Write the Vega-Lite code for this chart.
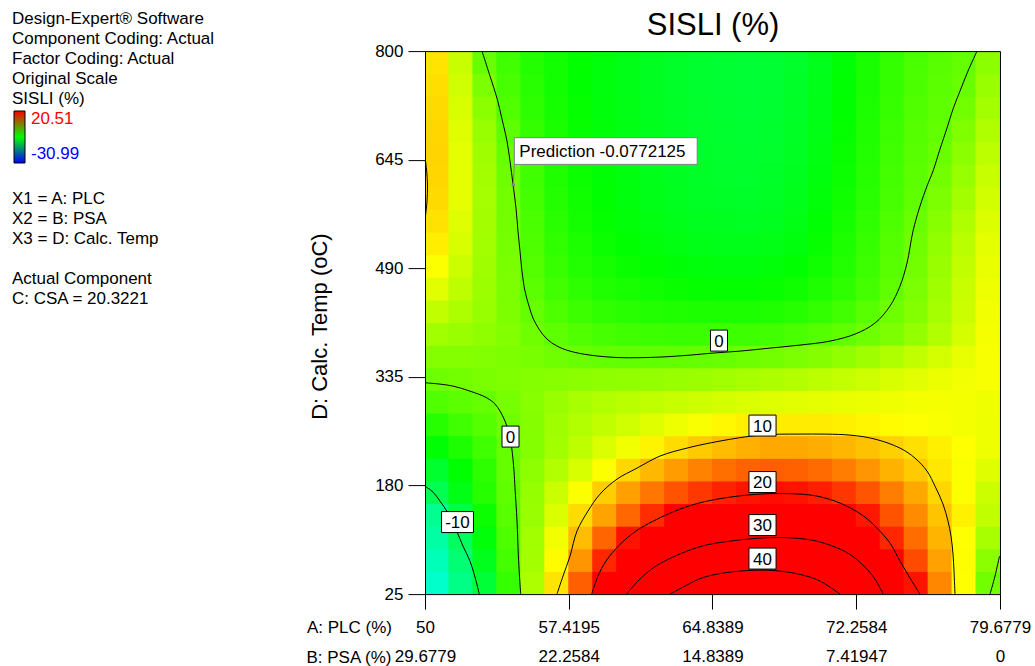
{
  "$schema": "https://vega.github.io/schema/vega-lite/v6.json",
  "background": "white",
  "padding": {"left": 12, "top": 9.1, "right": 0, "bottom": 0},
  "bounds": "flush",
  "spacing": 183,
  "config": {
    "view": {"stroke": null},
    "font": "Liberation Sans",
    "axis": {
      "labelFont": "Liberation Sans", "labelFontSize": 17, "labelColor": "#000000",
      "titleFont": "Liberation Sans", "titleFontSize": 17, "titleFontWeight": "normal", "titleColor": "#000000",
      "domainColor": "#000000", "tickColor": "#000000", "grid": false,
      "labelFlush": false, "labelOverlap": false, "labelBound": false
    },
    "legend": {"labelFont": "Liberation Sans"}
  },
  "datasets": {
    "info": [
      {"ln": 0, "t": "Design-Expert® Software"},
      {"ln": 1, "t": "Component Coding: Actual"},
      {"ln": 2, "t": "Factor Coding: Actual"},
      {"ln": 3, "t": "Original Scale"},
      {"ln": 4, "t": "SISLI (%)"},
      {"ln": 9, "t": "X1 = A: PLC"},
      {"ln": 10, "t": "X2 = B: PSA"},
      {"ln": 11, "t": "X3 = D: Calc. Temp"},
      {"ln": 13, "t": "Actual Component"},
      {"ln": 14, "t": "C: CSA = 20.3221"}
    ],
    "labels": [
      {"t": "0", "a": 54.413, "d": 249.8},
      {"t": "-10", "a": 51.677, "d": 127.8},
      {"t": "0", "a": 65.174, "d": 386.8},
      {"t": "10", "a": 67.42, "d": 265.5},
      {"t": "20", "a": 67.42, "d": 184.9},
      {"t": "30", "a": 67.42, "d": 123.5},
      {"t": "40", "a": 67.42, "d": 75.7}
    ],
    "pred": [
      {"a": 54.557, "d": 608.8, "a2": 54.609, "d2": 638.3, "t": "Prediction -0.0772125"}
    ],
    "contours": [
      {"k":"c1","o":0,"a":52.942,"d":800},{"k":"c1","o":1,"a":53.355,"d":764.3},{"k":"c1","o":2,"a":53.716,"d":732.9},{"k":"c1","o":3,"a":53.974,"d":703},{"k":"c1","o":4,"a":54.232,"d":671.6},{"k":"c1","o":5,"a":54.387,"d":643},{"k":"c1","o":6,"a":54.542,"d":610.2},{"k":"c1","o":7,"a":54.697,"d":575.9},{"k":"c1","o":8,"a":54.8,"d":543.1},{"k":"c1","o":9,"a":54.903,"d":514.6},{"k":"c1","o":10,"a":55.006,"d":486},{"k":"c1","o":11,"a":55.161,"d":457.5},{"k":"c1","o":12,"a":55.368,"d":436.1},{"k":"c1","o":13,"a":55.574,"d":418.9},{"k":"c1","o":14,"a":55.884,"d":403.2},{"k":"c1","o":15,"a":56.297,"d":388.9},{"k":"c1","o":16,"a":56.813,"d":379},{"k":"c1","o":17,"a":57.484,"d":371.8},{"k":"c1","o":18,"a":58.516,"d":366.1},{"k":"c1","o":19,"a":60.065,"d":362.5},{"k":"c1","o":20,"a":62.129,"d":363.3},{"k":"c1","o":21,"a":63.678,"d":366.1},{"k":"c1","o":22,"a":64.865,"d":369},{"k":"c1","o":23,"a":66.258,"d":371.8},{"k":"c1","o":24,"a":67.807,"d":376.1},{"k":"c1","o":25,"a":69.355,"d":380.4},{"k":"c1","o":26,"a":70.904,"d":386.1},{"k":"c1","o":27,"a":72.194,"d":396.1},{"k":"c1","o":28,"a":73.226,"d":411.8},{"k":"c1","o":29,"a":74,"d":436.1},{"k":"c1","o":30,"a":74.517,"d":464.6},{"k":"c1","o":31,"a":74.878,"d":497.4},{"k":"c1","o":32,"a":75.188,"d":543.1},{"k":"c1","o":33,"a":75.549,"d":578.8},{"k":"c1","o":34,"a":75.91,"d":607.3},{"k":"c1","o":35,"a":76.22,"d":628.7},{"k":"c1","o":36,"a":76.581,"d":660.1},{"k":"c1","o":37,"a":76.942,"d":690.1},{"k":"c1","o":38,"a":77.252,"d":717.2},{"k":"c1","o":39,"a":77.613,"d":742.9},{"k":"c1","o":40,"a":78.026,"d":771.5},{"k":"c1","o":41,"a":78.491,"d":800},
      {"k":"c2","o":0,"a":50,"d":326.6},{"k":"c2","o":1,"a":50.774,"d":324.7},{"k":"c2","o":2,"a":51.445,"d":321.9},{"k":"c2","o":3,"a":52.323,"d":314.7},{"k":"c2","o":4,"a":53.185,"d":305.2},{"k":"c2","o":5,"a":53.613,"d":296.2},{"k":"c2","o":6,"a":53.871,"d":286.2},{"k":"c2","o":7,"a":54.129,"d":271.9},{"k":"c2","o":8,"a":54.336,"d":254.8},{"k":"c2","o":9,"a":54.475,"d":233.8},{"k":"c2","o":10,"a":54.594,"d":200.6},{"k":"c2","o":11,"a":54.645,"d":176.7},{"k":"c2","o":12,"a":54.749,"d":129.2},{"k":"c2","o":13,"a":54.816,"d":81.7},{"k":"c2","o":14,"a":54.877,"d":50.7},{"k":"c2","o":15,"a":54.939,"d":25},
      {"k":"c3","o":0,"a":50,"d":179.1},{"k":"c3","o":1,"a":50.413,"d":170.6},{"k":"c3","o":2,"a":50.774,"d":157.7},{"k":"c3","o":3,"a":51.187,"d":140.6},{"k":"c3","o":4,"a":51.636,"d":114.9},{"k":"c3","o":5,"a":51.961,"d":93.5},{"k":"c3","o":6,"a":52.323,"d":72.1},{"k":"c3","o":7,"a":52.581,"d":49.3},{"k":"c3","o":8,"a":52.803,"d":25},
      {"k":"c4","o":0,"a":56.813,"d":25},{"k":"c4","o":1,"a":57.123,"d":50.7},{"k":"c4","o":2,"a":57.484,"d":79.2},{"k":"c4","o":3,"a":57.845,"d":114.9},{"k":"c4","o":4,"a":58.413,"d":143.5},{"k":"c4","o":5,"a":59.032,"d":167.7},{"k":"c4","o":6,"a":59.91,"d":189.1},{"k":"c4","o":7,"a":60.942,"d":204.8},{"k":"c4","o":8,"a":62.129,"d":222},{"k":"c4","o":9,"a":63.523,"d":233.4},{"k":"c4","o":10,"a":65.226,"d":243.4},{"k":"c4","o":11,"a":67.291,"d":251.9},{"k":"c4","o":12,"a":69.355,"d":253.4},{"k":"c4","o":13,"a":71.936,"d":251.9},{"k":"c4","o":14,"a":73.226,"d":246.2},{"k":"c4","o":15,"a":74.517,"d":233.4},{"k":"c4","o":16,"a":75.291,"d":219.1},{"k":"c4","o":17,"a":75.91,"d":200.6},{"k":"c4","o":18,"a":76.323,"d":179.1},{"k":"c4","o":19,"a":76.736,"d":153.5},{"k":"c4","o":20,"a":76.994,"d":129.2},{"k":"c4","o":21,"a":77.149,"d":107.8},{"k":"c4","o":22,"a":77.252,"d":82.1},{"k":"c4","o":23,"a":77.304,"d":57.8},{"k":"c4","o":24,"a":77.355,"d":25},
      {"k":"c5","o":0,"a":58.604,"d":25},{"k":"c5","o":1,"a":58.929,"d":50.7},{"k":"c5","o":2,"a":59.342,"d":72.1},{"k":"c5","o":3,"a":60.065,"d":95.9},{"k":"c5","o":4,"a":60.89,"d":114.9},{"k":"c5","o":5,"a":61.783,"d":129.2},{"k":"c5","o":6,"a":63.161,"d":146.3},{"k":"c5","o":7,"a":64.194,"d":155.3},{"k":"c5","o":8,"a":65.742,"d":163.4},{"k":"c5","o":9,"a":67.636,"d":168.2},{"k":"c5","o":10,"a":69.355,"d":167.7},{"k":"c5","o":11,"a":70.217,"d":164.9},{"k":"c5","o":12,"a":71.162,"d":157.7},{"k":"c5","o":13,"a":71.936,"d":148.2},{"k":"c5","o":14,"a":72.71,"d":134.9},{"k":"c5","o":15,"a":73.314,"d":119.6},{"k":"c5","o":16,"a":74,"d":97.8},{"k":"c5","o":17,"a":74.517,"d":72.1},{"k":"c5","o":18,"a":75.033,"d":47.8},{"k":"c5","o":19,"a":75.549,"d":25},
      {"k":"c6","o":0,"a":60.411,"d":25},{"k":"c6","o":1,"a":60.994,"d":43.6},{"k":"c6","o":2,"a":61.783,"d":62.5},{"k":"c6","o":3,"a":62.903,"d":79.2},{"k":"c6","o":4,"a":64.297,"d":93.5},{"k":"c6","o":5,"a":65.742,"d":100.6},{"k":"c6","o":6,"a":67.636,"d":105.4},{"k":"c6","o":7,"a":69.097,"d":104.9},{"k":"c6","o":8,"a":70.217,"d":100.6},{"k":"c6","o":9,"a":71.162,"d":92.1},{"k":"c6","o":10,"a":71.936,"d":81.7},{"k":"c6","o":11,"a":72.71,"d":63.5},{"k":"c6","o":12,"a":73.226,"d":46.4},{"k":"c6","o":13,"a":73.654,"d":25},
      {"k":"c7","o":0,"a":62.645,"d":25},{"k":"c7","o":1,"a":63.419,"d":36.4},{"k":"c7","o":2,"a":64.194,"d":47.1},{"k":"c7","o":3,"a":65.226,"d":54.3},{"k":"c7","o":4,"a":66.774,"d":58.8},{"k":"c7","o":5,"a":68.065,"d":58.5},{"k":"c7","o":6,"a":69.355,"d":53.1},{"k":"c7","o":7,"a":70.387,"d":43.6},{"k":"c7","o":8,"a":71.42,"d":25},
      {"k":"c8","o":0,"a":79.162,"d":25},{"k":"c8","o":1,"a":79.42,"d":50.7},{"k":"c8","o":2,"a":79.652,"d":79.2},
      {"k":"c9","o":0,"a":50,"d":648.7},{"k":"c9","o":1,"a":50.077,"d":631.6},{"k":"c9","o":2,"a":50.129,"d":607.3},{"k":"c9","o":3,"a":50.103,"d":585.9},{"k":"c9","o":4,"a":50.026,"d":564.5}
    ],
    "grid": [
      {"a":50.618,"d":41.1,"v":-15.5},{"a":51.855,"d":41.1,"v":-12},{"a":53.092,"d":41.1,"v":-8},{"a":54.328,"d":41.1,"v":-2.5},{"a":55.565,"d":41.1,"v":3.5},{"a":56.801,"d":41.1,"v":9},{"a":58.038,"d":41.1,"v":15.7},{"a":59.275,"d":41.1,"v":22.5},{"a":60.511,"d":41.1,"v":29},{"a":61.748,"d":41.1,"v":34.6},{"a":62.984,"d":41.1,"v":40},{"a":64.221,"d":41.1,"v":43},{"a":65.457,"d":41.1,"v":45.5},{"a":66.694,"d":41.1,"v":47},{"a":67.931,"d":41.1,"v":47},{"a":69.167,"d":41.1,"v":45.5},{"a":70.404,"d":41.1,"v":42.5},{"a":71.64,"d":41.1,"v":37.3},{"a":72.877,"d":41.1,"v":32},{"a":74.113,"d":41.1,"v":26},{"a":75.35,"d":41.1,"v":19.6},{"a":76.587,"d":41.1,"v":13.7},{"a":77.823,"d":41.1,"v":7.6},{"a":79.06,"d":41.1,"v":0.5},
      {"a":50.618,"d":73.4,"v":-14.5},{"a":51.855,"d":73.4,"v":-11},{"a":53.092,"d":73.4,"v":-6.7},{"a":54.328,"d":73.4,"v":-1.8},{"a":55.565,"d":73.4,"v":3},{"a":56.801,"d":73.4,"v":7.8},{"a":58.038,"d":73.4,"v":13},{"a":59.275,"d":73.4,"v":18.6},{"a":60.511,"d":73.4,"v":23},{"a":61.748,"d":73.4,"v":27},{"a":62.984,"d":73.4,"v":30.8},{"a":64.221,"d":73.4,"v":34},{"a":65.457,"d":73.4,"v":36.5},{"a":66.694,"d":73.4,"v":38},{"a":67.931,"d":73.4,"v":38.5},{"a":69.167,"d":73.4,"v":37.5},{"a":70.404,"d":73.4,"v":35},{"a":71.64,"d":73.4,"v":31.8},{"a":72.877,"d":73.4,"v":27},{"a":74.113,"d":73.4,"v":21.4},{"a":75.35,"d":73.4,"v":16.7},{"a":76.587,"d":73.4,"v":12.4},{"a":77.823,"d":73.4,"v":7.7},{"a":79.06,"d":73.4,"v":1.8},
      {"a":50.618,"d":105.7,"v":-13.5},{"a":51.855,"d":105.7,"v":-10},{"a":53.092,"d":105.7,"v":-5.7},{"a":54.328,"d":105.7,"v":-1.3},{"a":55.565,"d":105.7,"v":2.9},{"a":56.801,"d":105.7,"v":7},{"a":58.038,"d":105.7,"v":11},{"a":59.275,"d":105.7,"v":15.4},{"a":60.511,"d":105.7,"v":19.6},{"a":61.748,"d":105.7,"v":22.5},{"a":62.984,"d":105.7,"v":25},{"a":64.221,"d":105.7,"v":27},{"a":65.457,"d":105.7,"v":28.5},{"a":66.694,"d":105.7,"v":29.3},{"a":67.931,"d":105.7,"v":29.5},{"a":69.167,"d":105.7,"v":28.8},{"a":70.404,"d":105.7,"v":27},{"a":71.64,"d":105.7,"v":24.5},{"a":72.877,"d":105.7,"v":21.6},{"a":74.113,"d":105.7,"v":18.6},{"a":75.35,"d":105.7,"v":15},{"a":76.587,"d":105.7,"v":11.4},{"a":77.823,"d":105.7,"v":7.6},{"a":79.06,"d":105.7,"v":3.2},
      {"a":50.618,"d":138,"v":-12.5},{"a":51.855,"d":138,"v":-8.5},{"a":53.092,"d":138,"v":-4.7},{"a":54.328,"d":138,"v":-0.8},{"a":55.565,"d":138,"v":2.5},{"a":56.801,"d":138,"v":5.7},{"a":58.038,"d":138,"v":9.4},{"a":59.275,"d":138,"v":12.3},{"a":60.511,"d":138,"v":15.3},{"a":61.748,"d":138,"v":18.3},{"a":62.984,"d":138,"v":20.8},{"a":64.221,"d":138,"v":22.5},{"a":65.457,"d":138,"v":23.8},{"a":66.694,"d":138,"v":24.5},{"a":67.931,"d":138,"v":24.7},{"a":69.167,"d":138,"v":24.4},{"a":70.404,"d":138,"v":23.4},{"a":71.64,"d":138,"v":21.7},{"a":72.877,"d":138,"v":19.3},{"a":74.113,"d":138,"v":16.3},{"a":75.35,"d":138,"v":13.5},{"a":76.587,"d":138,"v":10.6},{"a":77.823,"d":138,"v":8.3},{"a":79.06,"d":138,"v":4.5},
      {"a":50.618,"d":170.3,"v":-9.3},{"a":51.855,"d":170.3,"v":-6.3},{"a":53.092,"d":170.3,"v":-3.3},{"a":54.328,"d":170.3,"v":-0.4},{"a":55.565,"d":170.3,"v":2.3},{"a":56.801,"d":170.3,"v":4.9},{"a":58.038,"d":170.3,"v":7.5},{"a":59.275,"d":170.3,"v":10.1},{"a":60.511,"d":170.3,"v":12.5},{"a":61.748,"d":170.3,"v":14.5},{"a":62.984,"d":170.3,"v":16.3},{"a":64.221,"d":170.3,"v":17.7},{"a":65.457,"d":170.3,"v":18.8},{"a":66.694,"d":170.3,"v":19.5},{"a":67.931,"d":170.3,"v":19.8},{"a":69.167,"d":170.3,"v":19.6},{"a":70.404,"d":170.3,"v":19},{"a":71.64,"d":170.3,"v":17.8},{"a":72.877,"d":170.3,"v":16.2},{"a":74.113,"d":170.3,"v":14.2},{"a":75.35,"d":170.3,"v":12},{"a":76.587,"d":170.3,"v":9.7},{"a":77.823,"d":170.3,"v":7.5},{"a":79.06,"d":170.3,"v":5},
      {"a":50.618,"d":202.6,"v":-7.6},{"a":51.855,"d":202.6,"v":-5.3},{"a":53.092,"d":202.6,"v":-2.9},{"a":54.328,"d":202.6,"v":-0.2},{"a":55.565,"d":202.6,"v":1.9},{"a":56.801,"d":202.6,"v":3.7},{"a":58.038,"d":202.6,"v":5.6},{"a":59.275,"d":202.6,"v":7.5},{"a":60.511,"d":202.6,"v":9.6},{"a":61.748,"d":202.6,"v":11.2},{"a":62.984,"d":202.6,"v":12.6},{"a":64.221,"d":202.6,"v":13.9},{"a":65.457,"d":202.6,"v":14.9},{"a":66.694,"d":202.6,"v":15.5},{"a":67.931,"d":202.6,"v":15.7},{"a":69.167,"d":202.6,"v":15.6},{"a":70.404,"d":202.6,"v":15.1},{"a":71.64,"d":202.6,"v":14.2},{"a":72.877,"d":202.6,"v":13},{"a":74.113,"d":202.6,"v":11.5},{"a":75.35,"d":202.6,"v":10.3},{"a":76.587,"d":202.6,"v":8.8},{"a":77.823,"d":202.6,"v":7.5},{"a":79.06,"d":202.6,"v":6},
      {"a":50.618,"d":234.9,"v":-5.5},{"a":51.855,"d":234.9,"v":-3.8},{"a":53.092,"d":234.9,"v":-2},{"a":54.328,"d":234.9,"v":-0.2},{"a":55.565,"d":234.9,"v":1.4},{"a":56.801,"d":234.9,"v":2.9},{"a":58.038,"d":234.9,"v":4.3},{"a":59.275,"d":234.9,"v":5.7},{"a":60.511,"d":234.9,"v":7},{"a":61.748,"d":234.9,"v":8.2},{"a":62.984,"d":234.9,"v":9.4},{"a":64.221,"d":234.9,"v":10.3},{"a":65.457,"d":234.9,"v":11},{"a":66.694,"d":234.9,"v":11.6},{"a":67.931,"d":234.9,"v":12},{"a":69.167,"d":234.9,"v":12},{"a":70.404,"d":234.9,"v":11.8},{"a":71.64,"d":234.9,"v":11.3},{"a":72.877,"d":234.9,"v":10.7},{"a":74.113,"d":234.9,"v":10},{"a":75.35,"d":234.9,"v":9.2},{"a":76.587,"d":234.9,"v":8.4},{"a":77.823,"d":234.9,"v":7.6},{"a":79.06,"d":234.9,"v":6.8},
      {"a":50.618,"d":267.2,"v":-3.3},{"a":51.855,"d":267.2,"v":-2},{"a":53.092,"d":267.2,"v":-0.9},{"a":54.328,"d":267.2,"v":0.3},{"a":55.565,"d":267.2,"v":1.5},{"a":56.801,"d":267.2,"v":2.8},{"a":58.038,"d":267.2,"v":3.7},{"a":59.275,"d":267.2,"v":4.5},{"a":60.511,"d":267.2,"v":5.2},{"a":61.748,"d":267.2,"v":6},{"a":62.984,"d":267.2,"v":6.8},{"a":64.221,"d":267.2,"v":7.4},{"a":65.457,"d":267.2,"v":8},{"a":66.694,"d":267.2,"v":8.4},{"a":67.931,"d":267.2,"v":8.6},{"a":69.167,"d":267.2,"v":8.6},{"a":70.404,"d":267.2,"v":8.6},{"a":71.64,"d":267.2,"v":8.4},{"a":72.877,"d":267.2,"v":8.1},{"a":74.113,"d":267.2,"v":7.8},{"a":75.35,"d":267.2,"v":7.6},{"a":76.587,"d":267.2,"v":7.4},{"a":77.823,"d":267.2,"v":7.1},{"a":79.06,"d":267.2,"v":6.8},
      {"a":50.618,"d":299.5,"v":-1.2},{"a":51.855,"d":299.5,"v":-0.6},{"a":53.092,"d":299.5,"v":-0.1},{"a":54.328,"d":299.5,"v":0.7},{"a":55.565,"d":299.5,"v":1.6},{"a":56.801,"d":299.5,"v":2.5},{"a":58.038,"d":299.5,"v":3.2},{"a":59.275,"d":299.5,"v":3.7},{"a":60.511,"d":299.5,"v":4.1},{"a":61.748,"d":299.5,"v":4.4},{"a":62.984,"d":299.5,"v":4.8},{"a":64.221,"d":299.5,"v":5.1},{"a":65.457,"d":299.5,"v":5.4},{"a":66.694,"d":299.5,"v":5.7},{"a":67.931,"d":299.5,"v":5.9},{"a":69.167,"d":299.5,"v":6.1},{"a":70.404,"d":299.5,"v":6.3},{"a":71.64,"d":299.5,"v":6.5},{"a":72.877,"d":299.5,"v":6.7},{"a":74.113,"d":299.5,"v":6.9},{"a":75.35,"d":299.5,"v":7.1},{"a":76.587,"d":299.5,"v":7.2},{"a":77.823,"d":299.5,"v":7.1},{"a":79.06,"d":299.5,"v":6.9},
      {"a":50.618,"d":331.8,"v":0.3},{"a":51.855,"d":331.8,"v":0.6},{"a":53.092,"d":331.8,"v":0.9},{"a":54.328,"d":331.8,"v":1.2},{"a":55.565,"d":331.8,"v":1.4},{"a":56.801,"d":331.8,"v":1.6},{"a":58.038,"d":331.8,"v":1.8},{"a":59.275,"d":331.8,"v":2},{"a":60.511,"d":331.8,"v":2.1},{"a":61.748,"d":331.8,"v":2.2},{"a":62.984,"d":331.8,"v":2.4},{"a":64.221,"d":331.8,"v":2.6},{"a":65.457,"d":331.8,"v":2.9},{"a":66.694,"d":331.8,"v":3.2},{"a":67.931,"d":331.8,"v":3.5},{"a":69.167,"d":331.8,"v":3.8},{"a":70.404,"d":331.8,"v":4.2},{"a":71.64,"d":331.8,"v":4.6},{"a":72.877,"d":331.8,"v":5.1},{"a":74.113,"d":331.8,"v":5.6},{"a":75.35,"d":331.8,"v":6.1},{"a":76.587,"d":331.8,"v":6.6},{"a":77.823,"d":331.8,"v":7},{"a":79.06,"d":331.8,"v":7.3},
      {"a":50.618,"d":364.1,"v":1.4},{"a":51.855,"d":364.1,"v":1.4},{"a":53.092,"d":364.1,"v":1.3},{"a":54.328,"d":364.1,"v":1.1},{"a":55.565,"d":364.1,"v":0.8},{"a":56.801,"d":364.1,"v":0.4},{"a":58.038,"d":364.1,"v":0.1},{"a":59.275,"d":364.1,"v":-0.2},{"a":60.511,"d":364.1,"v":-0.3},{"a":61.748,"d":364.1,"v":-0.3},{"a":62.984,"d":364.1,"v":-0.25},{"a":64.221,"d":364.1,"v":-0.15},{"a":65.457,"d":364.1,"v":0},{"a":66.694,"d":364.1,"v":0.3},{"a":67.931,"d":364.1,"v":0.6},{"a":69.167,"d":364.1,"v":1},{"a":70.404,"d":364.1,"v":1.5},{"a":71.64,"d":364.1,"v":2.1},{"a":72.877,"d":364.1,"v":2.8},{"a":74.113,"d":364.1,"v":3.6},{"a":75.35,"d":364.1,"v":4.5},{"a":76.587,"d":364.1,"v":5.4},{"a":77.823,"d":364.1,"v":6.4},{"a":79.06,"d":364.1,"v":7.3},
      {"a":50.618,"d":396.4,"v":2.9},{"a":51.855,"d":396.4,"v":2.5},{"a":53.092,"d":396.4,"v":2},{"a":54.328,"d":396.4,"v":1.3},{"a":55.565,"d":396.4,"v":0.4},{"a":56.801,"d":396.4,"v":-0.5},{"a":58.038,"d":396.4,"v":-1.2},{"a":59.275,"d":396.4,"v":-1.7},{"a":60.511,"d":396.4,"v":-2},{"a":61.748,"d":396.4,"v":-2.2},{"a":62.984,"d":396.4,"v":-2.3},{"a":64.221,"d":396.4,"v":-2.3},{"a":65.457,"d":396.4,"v":-2.2},{"a":66.694,"d":396.4,"v":-2.1},{"a":67.931,"d":396.4,"v":-1.9},{"a":69.167,"d":396.4,"v":-1.5},{"a":70.404,"d":396.4,"v":-1},{"a":71.64,"d":396.4,"v":-0.4},{"a":72.877,"d":396.4,"v":0.3},{"a":74.113,"d":396.4,"v":1},{"a":75.35,"d":396.4,"v":2.2},{"a":76.587,"d":396.4,"v":3.7},{"a":77.823,"d":396.4,"v":5.4},{"a":79.06,"d":396.4,"v":7.2},
      {"a":50.618,"d":428.6,"v":4.5},{"a":51.855,"d":428.6,"v":3.5},{"a":53.092,"d":428.6,"v":2.4},{"a":54.328,"d":428.6,"v":1.1},{"a":55.565,"d":428.6,"v":-0.1},{"a":56.801,"d":428.6,"v":-1.3},{"a":58.038,"d":428.6,"v":-2.2},{"a":59.275,"d":428.6,"v":-2.8},{"a":60.511,"d":428.6,"v":-3.2},{"a":61.748,"d":428.6,"v":-3.5},{"a":62.984,"d":428.6,"v":-3.7},{"a":64.221,"d":428.6,"v":-3.9},{"a":65.457,"d":428.6,"v":-3.9},{"a":66.694,"d":428.6,"v":-3.9},{"a":67.931,"d":428.6,"v":-3.7},{"a":69.167,"d":428.6,"v":-3.3},{"a":70.404,"d":428.6,"v":-2.7},{"a":71.64,"d":428.6,"v":-1.9},{"a":72.877,"d":428.6,"v":-0.8},{"a":74.113,"d":428.6,"v":0.3},{"a":75.35,"d":428.6,"v":1.4},{"a":76.587,"d":428.6,"v":3.1},{"a":77.823,"d":428.6,"v":5},{"a":79.06,"d":428.6,"v":7},
      {"a":50.618,"d":460.9,"v":6.1},{"a":51.855,"d":460.9,"v":4.3},{"a":53.092,"d":460.9,"v":2.6},{"a":54.328,"d":460.9,"v":1},{"a":55.565,"d":460.9,"v":-0.6},{"a":56.801,"d":460.9,"v":-1.9},{"a":58.038,"d":460.9,"v":-2.9},{"a":59.275,"d":460.9,"v":-3.6},{"a":60.511,"d":460.9,"v":-4.1},{"a":61.748,"d":460.9,"v":-4.5},{"a":62.984,"d":460.9,"v":-4.8},{"a":64.221,"d":460.9,"v":-5},{"a":65.457,"d":460.9,"v":-5.1},{"a":66.694,"d":460.9,"v":-5.1},{"a":67.931,"d":460.9,"v":-4.9},{"a":69.167,"d":460.9,"v":-4.5},{"a":70.404,"d":460.9,"v":-3.8},{"a":71.64,"d":460.9,"v":-2.9},{"a":72.877,"d":460.9,"v":-1.8},{"a":74.113,"d":460.9,"v":-0.4},{"a":75.35,"d":460.9,"v":1},{"a":76.587,"d":460.9,"v":2.8},{"a":77.823,"d":460.9,"v":4.8},{"a":79.06,"d":460.9,"v":6.8},
      {"a":50.618,"d":493.2,"v":7.5},{"a":51.855,"d":493.2,"v":5},{"a":53.092,"d":493.2,"v":2.8},{"a":54.328,"d":493.2,"v":0.9},{"a":55.565,"d":493.2,"v":-1},{"a":56.801,"d":493.2,"v":-2.4},{"a":58.038,"d":493.2,"v":-3.5},{"a":59.275,"d":493.2,"v":-4.2},{"a":60.511,"d":493.2,"v":-4.8},{"a":61.748,"d":493.2,"v":-5.2},{"a":62.984,"d":493.2,"v":-5.6},{"a":64.221,"d":493.2,"v":-5.8},{"a":65.457,"d":493.2,"v":-5.9},{"a":66.694,"d":493.2,"v":-5.9},{"a":67.931,"d":493.2,"v":-5.7},{"a":69.167,"d":493.2,"v":-5.3},{"a":70.404,"d":493.2,"v":-4.5},{"a":71.64,"d":493.2,"v":-3.5},{"a":72.877,"d":493.2,"v":-2.2},{"a":74.113,"d":493.2,"v":-0.8},{"a":75.35,"d":493.2,"v":0.6},{"a":76.587,"d":493.2,"v":2.5},{"a":77.823,"d":493.2,"v":4.5},{"a":79.06,"d":493.2,"v":6.5},
      {"a":50.618,"d":525.5,"v":8.5},{"a":51.855,"d":525.5,"v":5.6},{"a":53.092,"d":525.5,"v":2.9},{"a":54.328,"d":525.5,"v":0.7},{"a":55.565,"d":525.5,"v":-1.3},{"a":56.801,"d":525.5,"v":-2.8},{"a":58.038,"d":525.5,"v":-3.9},{"a":59.275,"d":525.5,"v":-4.7},{"a":60.511,"d":525.5,"v":-5.3},{"a":61.748,"d":525.5,"v":-5.7},{"a":62.984,"d":525.5,"v":-6.1},{"a":64.221,"d":525.5,"v":-6.4},{"a":65.457,"d":525.5,"v":-6.5},{"a":66.694,"d":525.5,"v":-6.5},{"a":67.931,"d":525.5,"v":-6.3},{"a":69.167,"d":525.5,"v":-5.9},{"a":70.404,"d":525.5,"v":-5},{"a":71.64,"d":525.5,"v":-3.9},{"a":72.877,"d":525.5,"v":-2.5},{"a":74.113,"d":525.5,"v":-1},{"a":75.35,"d":525.5,"v":0.4},{"a":76.587,"d":525.5,"v":2.1},{"a":77.823,"d":525.5,"v":4.1},{"a":79.06,"d":525.5,"v":6.2},
      {"a":50.618,"d":557.8,"v":9.1},{"a":51.855,"d":557.8,"v":6},{"a":53.092,"d":557.8,"v":3},{"a":54.328,"d":557.8,"v":0.6},{"a":55.565,"d":557.8,"v":-1.5},{"a":56.801,"d":557.8,"v":-3.1},{"a":58.038,"d":557.8,"v":-4.3},{"a":59.275,"d":557.8,"v":-5.1},{"a":60.511,"d":557.8,"v":-5.7},{"a":61.748,"d":557.8,"v":-6.1},{"a":62.984,"d":557.8,"v":-6.5},{"a":64.221,"d":557.8,"v":-6.8},{"a":65.457,"d":557.8,"v":-6.9},{"a":66.694,"d":557.8,"v":-7},{"a":67.931,"d":557.8,"v":-6.8},{"a":69.167,"d":557.8,"v":-6.3},{"a":70.404,"d":557.8,"v":-5.4},{"a":71.64,"d":557.8,"v":-4.2},{"a":72.877,"d":557.8,"v":-2.8},{"a":74.113,"d":557.8,"v":-1.3},{"a":75.35,"d":557.8,"v":0},{"a":76.587,"d":557.8,"v":1.6},{"a":77.823,"d":557.8,"v":3.6},{"a":79.06,"d":557.8,"v":5.8},
      {"a":50.618,"d":590.1,"v":9.5},{"a":51.855,"d":590.1,"v":6.3},{"a":53.092,"d":590.1,"v":3.1},{"a":54.328,"d":590.1,"v":0.5},{"a":55.565,"d":590.1,"v":-1.8},{"a":56.801,"d":590.1,"v":-3.4},{"a":58.038,"d":590.1,"v":-4.5},{"a":59.275,"d":590.1,"v":-5.3},{"a":60.511,"d":590.1,"v":-5.9},{"a":61.748,"d":590.1,"v":-6.4},{"a":62.984,"d":590.1,"v":-6.8},{"a":64.221,"d":590.1,"v":-7.1},{"a":65.457,"d":590.1,"v":-7.2},{"a":66.694,"d":590.1,"v":-7.3},{"a":67.931,"d":590.1,"v":-7.1},{"a":69.167,"d":590.1,"v":-6.6},{"a":70.404,"d":590.1,"v":-5.7},{"a":71.64,"d":590.1,"v":-4.5},{"a":72.877,"d":590.1,"v":-3.1},{"a":74.113,"d":590.1,"v":-1.6},{"a":75.35,"d":590.1,"v":-0.4},{"a":76.587,"d":590.1,"v":1},{"a":77.823,"d":590.1,"v":3},{"a":79.06,"d":590.1,"v":5.3},
      {"a":50.618,"d":622.4,"v":9.7},{"a":51.855,"d":622.4,"v":6.3},{"a":53.092,"d":622.4,"v":3},{"a":54.328,"d":622.4,"v":0.3},{"a":55.565,"d":622.4,"v":-2},{"a":56.801,"d":622.4,"v":-3.6},{"a":58.038,"d":622.4,"v":-4.7},{"a":59.275,"d":622.4,"v":-5.5},{"a":60.511,"d":622.4,"v":-6},{"a":61.748,"d":622.4,"v":-6.5},{"a":62.984,"d":622.4,"v":-6.9},{"a":64.221,"d":622.4,"v":-7.2},{"a":65.457,"d":622.4,"v":-7.4},{"a":66.694,"d":622.4,"v":-7.5},{"a":67.931,"d":622.4,"v":-7.3},{"a":69.167,"d":622.4,"v":-6.8},{"a":70.404,"d":622.4,"v":-5.9},{"a":71.64,"d":622.4,"v":-4.7},{"a":72.877,"d":622.4,"v":-3.3},{"a":74.113,"d":622.4,"v":-1.8},{"a":75.35,"d":622.4,"v":-0.6},{"a":76.587,"d":622.4,"v":0.5},{"a":77.823,"d":622.4,"v":2.4},{"a":79.06,"d":622.4,"v":4.8},
      {"a":50.618,"d":654.7,"v":9.8},{"a":51.855,"d":654.7,"v":6.2},{"a":53.092,"d":654.7,"v":2.8},{"a":54.328,"d":654.7,"v":0},{"a":55.565,"d":654.7,"v":-2.3},{"a":56.801,"d":654.7,"v":-3.8},{"a":58.038,"d":654.7,"v":-4.9},{"a":59.275,"d":654.7,"v":-5.6},{"a":60.511,"d":654.7,"v":-6.1},{"a":61.748,"d":654.7,"v":-6.6},{"a":62.984,"d":654.7,"v":-7},{"a":64.221,"d":654.7,"v":-7.3},{"a":65.457,"d":654.7,"v":-7.5},{"a":66.694,"d":654.7,"v":-7.6},{"a":67.931,"d":654.7,"v":-7.5},{"a":69.167,"d":654.7,"v":-7},{"a":70.404,"d":654.7,"v":-6.1},{"a":71.64,"d":654.7,"v":-4.9},{"a":72.877,"d":654.7,"v":-3.5},{"a":74.113,"d":654.7,"v":-2},{"a":75.35,"d":654.7,"v":-0.8},{"a":76.587,"d":654.7,"v":0},{"a":77.823,"d":654.7,"v":1.8},{"a":79.06,"d":654.7,"v":4.2},
      {"a":50.618,"d":687,"v":9.7},{"a":51.855,"d":687,"v":6},{"a":53.092,"d":687,"v":2.4},{"a":54.328,"d":687,"v":-0.5},{"a":55.565,"d":687,"v":-2.6},{"a":56.801,"d":687,"v":-4},{"a":58.038,"d":687,"v":-5},{"a":59.275,"d":687,"v":-5.7},{"a":60.511,"d":687,"v":-6.2},{"a":61.748,"d":687,"v":-6.7},{"a":62.984,"d":687,"v":-7.1},{"a":64.221,"d":687,"v":-7.4},{"a":65.457,"d":687,"v":-7.6},{"a":66.694,"d":687,"v":-7.7},{"a":67.931,"d":687,"v":-7.6},{"a":69.167,"d":687,"v":-7.1},{"a":70.404,"d":687,"v":-6.3},{"a":71.64,"d":687,"v":-5.1},{"a":72.877,"d":687,"v":-3.7},{"a":74.113,"d":687,"v":-2.2},{"a":75.35,"d":687,"v":-0.9},{"a":76.587,"d":687,"v":-0.3},{"a":77.823,"d":687,"v":1.2},{"a":79.06,"d":687,"v":3.6},
      {"a":50.618,"d":719.3,"v":9.5},{"a":51.855,"d":719.3,"v":5.6},{"a":53.092,"d":719.3,"v":1.8},{"a":54.328,"d":719.3,"v":-1.1},{"a":55.565,"d":719.3,"v":-2.9},{"a":56.801,"d":719.3,"v":-4.2},{"a":58.038,"d":719.3,"v":-5.1},{"a":59.275,"d":719.3,"v":-5.8},{"a":60.511,"d":719.3,"v":-6.3},{"a":61.748,"d":719.3,"v":-6.8},{"a":62.984,"d":719.3,"v":-7.2},{"a":64.221,"d":719.3,"v":-7.5},{"a":65.457,"d":719.3,"v":-7.7},{"a":66.694,"d":719.3,"v":-7.8},{"a":67.931,"d":719.3,"v":-7.7},{"a":69.167,"d":719.3,"v":-7.2},{"a":70.404,"d":719.3,"v":-6.4},{"a":71.64,"d":719.3,"v":-5.3},{"a":72.877,"d":719.3,"v":-3.9},{"a":74.113,"d":719.3,"v":-2.5},{"a":75.35,"d":719.3,"v":-1.2},{"a":76.587,"d":719.3,"v":-0.5},{"a":77.823,"d":719.3,"v":0.5},{"a":79.06,"d":719.3,"v":3},
      {"a":50.618,"d":751.6,"v":9.3},{"a":51.855,"d":751.6,"v":5.2},{"a":53.092,"d":751.6,"v":1},{"a":54.328,"d":751.6,"v":-1.6},{"a":55.565,"d":751.6,"v":-3.2},{"a":56.801,"d":751.6,"v":-4.4},{"a":58.038,"d":751.6,"v":-5.3},{"a":59.275,"d":751.6,"v":-5.9},{"a":60.511,"d":751.6,"v":-6.4},{"a":61.748,"d":751.6,"v":-6.9},{"a":62.984,"d":751.6,"v":-7.3},{"a":64.221,"d":751.6,"v":-7.6},{"a":65.457,"d":751.6,"v":-7.8},{"a":66.694,"d":751.6,"v":-7.9},{"a":67.931,"d":751.6,"v":-7.8},{"a":69.167,"d":751.6,"v":-7.3},{"a":70.404,"d":751.6,"v":-6.5},{"a":71.64,"d":751.6,"v":-5.4},{"a":72.877,"d":751.6,"v":-4},{"a":74.113,"d":751.6,"v":-2.6},{"a":75.35,"d":751.6,"v":-1.4},{"a":76.587,"d":751.6,"v":-0.6},{"a":77.823,"d":751.6,"v":0},{"a":79.06,"d":751.6,"v":2.4},
      {"a":50.618,"d":783.9,"v":9},{"a":51.855,"d":783.9,"v":4.8},{"a":53.092,"d":783.9,"v":0},{"a":54.328,"d":783.9,"v":-2},{"a":55.565,"d":783.9,"v":-3.4},{"a":56.801,"d":783.9,"v":-4.4},{"a":58.038,"d":783.9,"v":-5.2},{"a":59.275,"d":783.9,"v":-5.8},{"a":60.511,"d":783.9,"v":-6.4},{"a":61.748,"d":783.9,"v":-6.9},{"a":62.984,"d":783.9,"v":-7.3},{"a":64.221,"d":783.9,"v":-7.6},{"a":65.457,"d":783.9,"v":-7.8},{"a":66.694,"d":783.9,"v":-7.9},{"a":67.931,"d":783.9,"v":-7.8},{"a":69.167,"d":783.9,"v":-7.4},{"a":70.404,"d":783.9,"v":-6.6},{"a":71.64,"d":783.9,"v":-5.5},{"a":72.877,"d":783.9,"v":-4},{"a":74.113,"d":783.9,"v":-2.6},{"a":75.35,"d":783.9,"v":-1.5},{"a":76.587,"d":783.9,"v":-0.8},{"a":77.823,"d":783.9,"v":-0.2},{"a":79.06,"d":783.9,"v":1.8}
    ]
  },
  "resolve": {"scale": {"color": "shared"}},
  "hconcat": [
    {
      "width": 230,
      "height": 310,
      "view": {"stroke": null},
      "data": {"name": "info"},
      "mark": {"type": "text", "align": "left", "baseline": "alphabetic", "font": "Liberation Sans", "fontSize": 17, "color": "#000000"},
      "encoding": {
        "x": {"datum": 0, "type": "quantitative", "scale": {"domain": [0, 1]}, "axis": null},
        "y": {"field": "ln", "type": "quantitative", "scale": {"domain": [1.363, 16.84], "reverse": true, "nice": false, "zero": false}, "axis": null},
        "text": {"field": "t"}
      }
    },
    {
      "width": 575,
      "height": 543,
      "resolve": {"scale": {"x": "independent", "y": "independent"}},
      "layer": [
        {
          "data": {"name": "grid"},
          "mark": {"type": "rect", "width": {"band": 1.04}, "height": {"band": 1.04}, "clip": true},
          "encoding": {
            "x": {"field": "a", "type": "ordinal", "sort": "ascending", "scale": {"paddingInner": 0, "paddingOuter": 0}, "axis": null},
            "y": {"field": "d", "type": "ordinal", "sort": "descending", "scale": {"paddingInner": 0, "paddingOuter": 0}, "axis": null},
            "color": {
              "field": "v", "type": "quantitative",
              "scale": {"domain": [-30.99, -18.115, -5.24, 7.635, 20.51], "range": ["#0000ff", "#00ffff", "#00ff00", "#ffff00", "#ff0000"], "clamp": true, "interpolate": "rgb"},
              "legend": {
                "type": "gradient",
                "orient": "none", "legendX": 2, "legendY": 59.9, "direction": "vertical", "title": null,
                "gradientLength": 52, "gradientThickness": 11, "gradientStrokeColor": "#000000", "gradientStrokeWidth": 1,
                "values": [-30.99, 20.51],
                "labelExpr": "datum.value > 0 ? '20.51' : '-30.99'",
                "labelFont": "Liberation Sans", "labelFontSize": 17, "labelOffset": 6, "labelOverlap": false,
                "encode": {
                  "gradient": {"update": {"fill": {"value": {"gradient": "linear", "x1": 0, "y1": 0, "x2": 0, "y2": 1, "stops": [{"offset": 0, "color": "#ff0000"}, {"offset": 0.5, "color": "#00ff00"}, {"offset": 1, "color": "#0000ff"}]}}}},
                  "labels": {"update": {"fill": {"signal": "datum.value > 0 ? '#ff0000' : '#0000ff'"}}}
                }
              }
            }
          }
        },
        {
          "data": {"name": "contours"},
          "mark": {"type": "line", "color": "#000000", "strokeWidth": 1, "interpolate": "catmull-rom", "clip": true},
          "encoding": {
            "x": {
              "field": "a", "type": "quantitative", "scale": {"domain": [50, 79.6779], "nice": false, "zero": false},
              "axis": {"orient": "bottom", "values": [50, 57.4195, 64.8389, 72.2584, 79.6779], "format": ".6~g", "title": "A: PLC (%)", "tickSize": 15, "labelPadding": 10, "titleX": -118.5, "titleY": 38.4, "titleAlign": "left", "titleAnchor": "start", "titleBaseline": "alphabetic", "zindex": 1}
            },
            "y": {
              "field": "d", "type": "quantitative", "scale": {"domain": [25, 800], "nice": false, "zero": false},
              "axis": {"orient": "left", "values": [25, 180, 335, 490, 645, 800], "title": "D: Calc. Temp (oC)", "tickSize": 17, "labelPadding": 5, "titleFontSize": 22, "titleX": -99, "titleY": 275, "titleAlign": "center", "titleBaseline": "alphabetic", "titleAngle": 270, "zindex": 1}
            },
            "detail": {"field": "k"},
            "order": {"field": "o", "type": "quantitative"}
          }
        },
        {
          "data": {"name": "labels"},
          "mark": {"type": "point", "filled": true, "fill": "#ffffff", "stroke": "#000000", "strokeWidth": 1, "opacity": 1, "fillOpacity": 1, "size": 441},
          "encoding": {
            "x": {
              "field": "a", "type": "quantitative", "scale": {"domain": [50, 79.6779], "nice": false, "zero": false},
              "axis": {"orient": "bottom", "values": [50, 57.4195, 64.8389, 72.2584, 79.6779], "format": ".6~g", "labelExpr": "datum.value == 50 ? '29.6779' : datum.value < 60 ? '22.2584' : datum.value < 70 ? '14.8389' : datum.value < 75 ? '7.41947' : '0'", "ticks": false, "domain": false, "tickSize": 0, "labelPadding": 54.6, "title": "B: PSA (%)", "titleX": -119, "titleY": 68.4, "titleAlign": "left", "titleAnchor": "start", "titleBaseline": "alphabetic", "zindex": 1}
            },
            "y": {"field": "d", "type": "quantitative", "scale": {"domain": [25, 800], "nice": false, "zero": false}, "axis": null},
            "shape": {
              "field": "t", "type": "nominal",
              "scale": {"domain": ["0", "10", "20", "30", "40", "-10"], "range": ["M-0.81,-1H0.81V1H-0.81Z", "M-1.29,-1H1.29V1H-1.29Z", "M-1.29,-1H1.29V1H-1.29Z", "M-1.29,-1H1.29V1H-1.29Z", "M-1.29,-1H1.29V1H-1.29Z", "M-1.52,-1H1.52V1H-1.52Z"]},
              "legend": null
            }
          }
        },
        {
          "data": {"name": "labels"},
          "mark": {"type": "text", "fontSize": 17, "align": "center", "baseline": "middle", "dy": 1, "color": "#000000", "font": "Liberation Sans"},
          "encoding": {
            "x": {
              "field": "a", "type": "quantitative", "scale": {"domain": [50, 79.6779], "nice": false, "zero": false},
              "axis": {"orient": "top", "labels": false, "ticks": false, "domain": true, "title": "SISLI (%)", "titleFontSize": 31, "titleX": 287.5, "titleY": -16.1, "titleAlign": "center", "titleAnchor": "middle", "titleBaseline": "alphabetic", "zindex": 1}
            },
            "y": {"field": "d", "type": "quantitative", "scale": {"domain": [25, 800], "nice": false, "zero": false}, "axis": null},
            "text": {"field": "t"}
          }
        },
        {
          "data": {"name": "pred"},
          "mark": {"type": "rule", "color": "#808080", "strokeWidth": 1},
          "encoding": {
            "x": {"field": "a", "type": "quantitative", "scale": {"domain": [50, 79.6779], "nice": false, "zero": false}, "axis": null},
            "y": {"field": "d", "type": "quantitative", "scale": {"domain": [25, 800], "nice": false, "zero": false}, "axis": null},
            "x2": {"field": "a2"},
            "y2": {"field": "d2"}
          }
        },
        {
          "data": {"name": "pred"},
          "mark": {"type": "square", "color": "#808080", "size": 10, "opacity": 1},
          "encoding": {
            "x": {"field": "a", "type": "quantitative", "scale": {"domain": [50, 79.6779], "nice": false, "zero": false}, "axis": null},
            "y": {"field": "d", "type": "quantitative", "scale": {"domain": [25, 800], "nice": false, "zero": false}, "axis": null}
          }
        },
        {
          "data": {"name": "pred"},
          "mark": {"type": "point", "shape": "M0,0H13.7V-2H0Z", "size": 713, "filled": true, "fill": "#ffffff", "stroke": "#808080", "strokeWidth": 1, "opacity": 1, "fillOpacity": 1},
          "encoding": {
            "x": {"field": "a2", "type": "quantitative", "scale": {"domain": [50, 79.6779], "nice": false, "zero": false}, "axis": null},
            "y": {"field": "d2", "type": "quantitative", "scale": {"domain": [25, 800], "nice": false, "zero": false}, "axis": null}
          }
        },
        {
          "data": {"name": "pred"},
          "mark": {"type": "text", "align": "left", "baseline": "alphabetic", "dx": 5, "dy": -7, "fontSize": 17, "color": "#000000", "font": "Liberation Sans"},
          "encoding": {
            "x": {"field": "a2", "type": "quantitative", "scale": {"domain": [50, 79.6779], "nice": false, "zero": false}, "axis": null},
            "y": {
              "field": "d2", "type": "quantitative", "scale": {"domain": [25, 800], "nice": false, "zero": false},
              "axis": {"orient": "right", "labels": false, "ticks": false, "domain": true, "title": null, "minExtent": 0, "zindex": 1}
            },
            "text": {"field": "t"}
          }
        }
      ]
    }
  ]
}
